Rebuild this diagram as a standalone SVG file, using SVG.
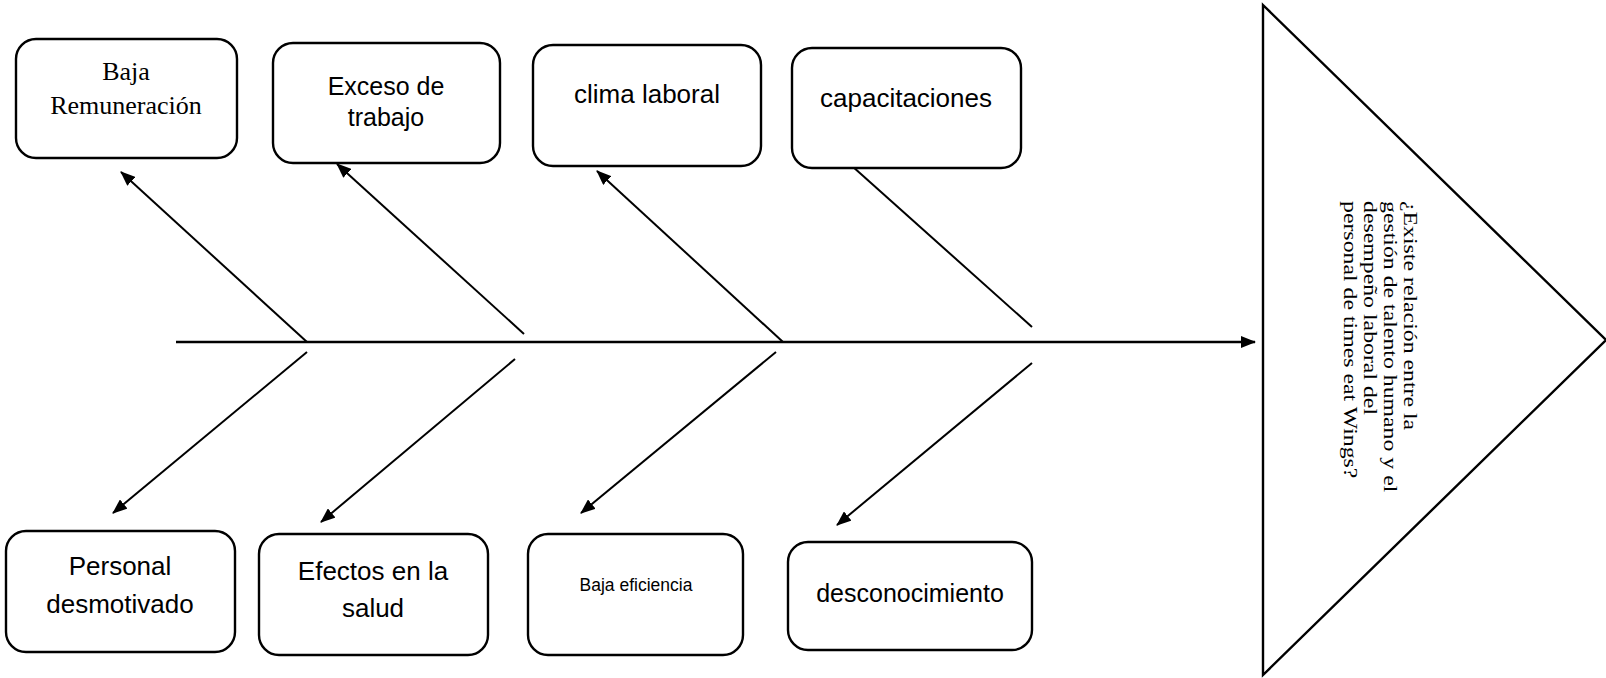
<svg xmlns="http://www.w3.org/2000/svg" width="1606" height="678" viewBox="0 0 1606 678">
<style>
.box{fill:#fff;stroke:#000;stroke-width:2.4}
.s{font-family:"Liberation Sans",Arial,sans-serif;font-size:26px;fill:#000;text-anchor:middle}
.r{font-family:"Liberation Serif","Times New Roman",serif;font-size:26px;fill:#000;text-anchor:middle}
.c{stroke:#000;stroke-width:2;fill:none}
.spine{stroke:#000;stroke-width:2.5;fill:none}
</style>
<defs>
<marker id="ah" viewBox="0 0 15 12" refX="14" refY="6" markerWidth="15" markerHeight="12" markerUnits="userSpaceOnUse" orient="auto">
<path d="M0,0 L15,6 L0,12 z" fill="#000"/>
</marker>
</defs>
<rect width="1606" height="678" fill="#fff"/>
<g id="connectors">
<line class="spine" x1="176" y1="342" x2="1255" y2="342" marker-end="url(#ah)"/>
<line class="c" x1="307" y1="342" x2="121" y2="172" marker-end="url(#ah)"/>
<line class="c" x1="524" y1="334" x2="337" y2="164" marker-end="url(#ah)"/>
<line class="c" x1="783" y1="342" x2="597" y2="171" marker-end="url(#ah)"/>
<line class="c" x1="1032" y1="327" x2="852" y2="166"/>
<line class="c" x1="307" y1="352" x2="113" y2="513" marker-end="url(#ah)"/>
<line class="c" x1="515" y1="359" x2="321" y2="522" marker-end="url(#ah)"/>
<line class="c" x1="776" y1="352" x2="581" y2="513" marker-end="url(#ah)"/>
<line class="c" x1="1032" y1="363" x2="837" y2="525" marker-end="url(#ah)"/>
</g>
<g id="baja-remuneracion">
<rect class="box" x="16" y="39" width="221" height="119" rx="20"/>
<text class="r" x="126" y="80">Baja</text>
<text class="r" x="126" y="114">Remuneración</text>
</g>
<g id="exceso-trabajo">
<rect class="box" x="273" y="43" width="227" height="120" rx="20"/>
<text class="s" x="386" y="95" style="font-size:25px">Exceso de</text>
<text class="s" x="386" y="126" style="font-size:25px">trabajo</text>
</g>
<g id="clima-laboral">
<rect class="box" x="533" y="45" width="228" height="121" rx="20"/>
<text class="s" x="647" y="103">clima laboral</text>
</g>
<g id="capacitaciones">
<rect class="box" x="792" y="48" width="229" height="120" rx="20"/>
<text class="s" x="906" y="107">capacitaciones</text>
</g>
<g id="personal-desmotivado">
<rect class="box" x="6" y="531" width="229" height="121" rx="20"/>
<text class="s" x="120" y="575">Personal</text>
<text class="s" x="120" y="613">desmotivado</text>
</g>
<g id="efectos-salud">
<rect class="box" x="259" y="534" width="229" height="121" rx="20"/>
<text class="s" x="373" y="580">Efectos en la</text>
<text class="s" x="373" y="617">salud</text>
</g>
<g id="baja-eficiencia">
<rect class="box" x="528" y="534" width="215" height="121" rx="20"/>
<text class="s" x="636" y="591" style="font-size:17.5px">Baja eficiencia</text>
</g>
<g id="desconocimiento">
<rect class="box" x="788" y="542" width="244" height="108" rx="20"/>
<text class="s" x="910" y="602" style="font-size:25px">desconocimiento</text>
</g>
<g id="problema">
<polygon points="1263,5 1606,340 1263,675" fill="#fff" stroke="#000" stroke-width="2.4"/>
<text transform="translate(1404,201) rotate(90) scale(1.22,1)" style="font-family:'Liberation Serif','Times New Roman',serif;font-size:19.5px;fill:#000">
<tspan x="0" y="0">¿Existe relación entre la</tspan>
<tspan x="0" dy="20">gestión de talento humano y el</tspan>
<tspan x="0" dy="20">desempeño laboral del</tspan>
<tspan x="0" dy="20">personal de times eat Wings?</tspan>
</text>
</g>
</svg>
